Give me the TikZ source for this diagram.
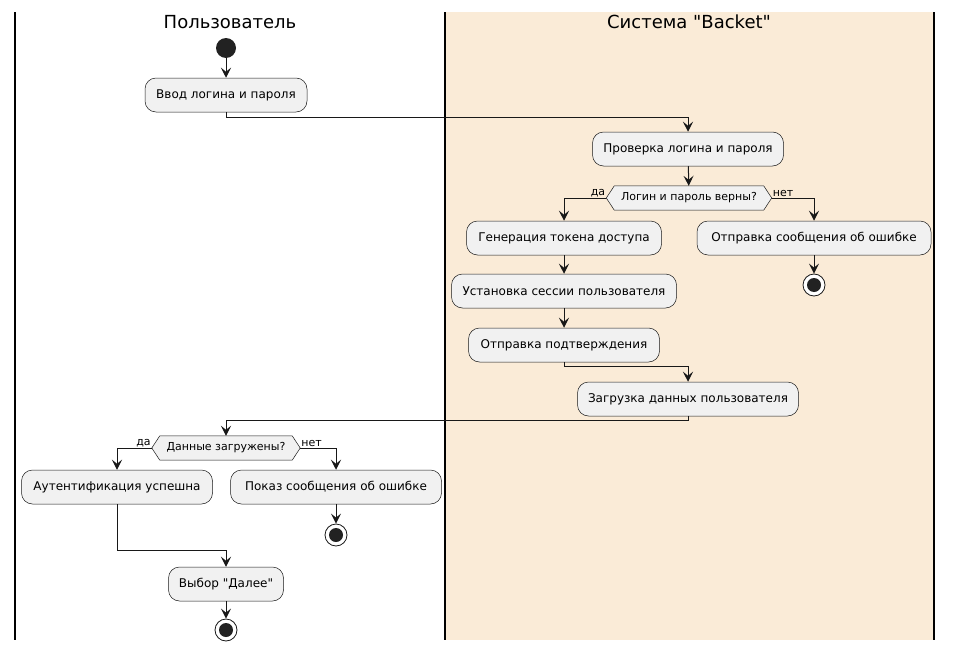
\documentclass[tikz,border=0pt]{standalone}
\usepackage{fontspec}
\setmainfont{DejaVu Sans}[Ligatures=TeXOff]
\usetikzlibrary{arrows.meta,positioning}
\definecolor{lanebg}{HTML}{FAEBD7}
\definecolor{boxfill}{HTML}{F1F1F1}
\definecolor{ink}{HTML}{181818}
\definecolor{dot}{HTML}{222222}
\tikzset{
  act/.style={draw=ink, line width=0.5pt, fill=boxfill, rounded corners=11pt,
    minimum height=34pt, inner xsep=10pt, font=\fontsize{12}{14}\selectfont, anchor=center},
  dec/.style={minimum height=24pt, inner xsep=14pt, font=\fontsize{11}{13}\selectfont},
  arr/.style={draw=ink, line width=1pt, -{Stealth[length=10pt,width=10pt,inset=4pt]}},
  ln/.style={draw=ink, line width=1pt},
  startdot/.style={circle, fill=dot, minimum size=20pt, inner sep=0pt},
  stopdot/.style={circle, draw=ink, line width=0.8pt, fill=white, minimum size=22pt, inner sep=0pt,
    path picture={\fill[dot] (path picture bounding box.center) circle (7pt);}},
  lbl/.style={font=\fontsize{11}{13}\selectfont, inner sep=1pt},
  lanetitle/.style={font=\fontsize{18}{20}\selectfont},
  laneline/.style={draw=black, line width=1.5pt}
}
\newcommand{\hexdraw}[1]{%
  \draw[draw=ink, line width=0.5pt, fill=boxfill]
    (#1.west) -- ([xshift=8pt]#1.north west) -- ([xshift=-8pt]#1.north east) --
    (#1.east) -- ([xshift=-8pt]#1.south east) -- ([xshift=8pt]#1.south west) -- cycle;}
\begin{document}
\begin{tikzpicture}[x=1pt,y=-1pt]
\useasboundingbox (0,0) rectangle (953,653);
% lanes
\fill[lanebg] (446,12) rectangle (933,640);
\draw[laneline] (15,12) -- (15,640);
\draw[laneline] (445,12) -- (445,640);
\draw[laneline] (934,12) -- (934,640);
\node[lanetitle] (t1) at (230,22) {Пользователь};
\node[lanetitle] (t2) at (689,22) {Система "Backet"};

% user lane top
\node[startdot] (start) at (226,48) {};
\node[act, minimum width=162pt] (b1) at (226,95) {Ввод логина и пароля};

% system lane
\node[act, minimum width=191pt] (b2) at (688,149) {Проверка логина и пароля};
\node[dec, minimum width=165pt] (d1) at (689,198) {};
\hexdraw{d1}
\node[dec] at (d1) {Логин и пароль верны?};
\node[act, minimum width=195pt] (b3) at (564,238) {Генерация токена доступа};
\node[act, minimum width=234pt] (b4) at (814,238) {Отправка сообщения об ошибке};
\node[stopdot] (s1) at (814,285) {};
\node[act, minimum width=225pt] (b5) at (564,291) {Установка сессии пользователя};
\node[act, minimum width=191pt] (b6) at (564,345) {Отправка подтверждения};
\node[act, minimum width=221pt] (b7) at (688,399) {Загрузка данных пользователя};

% user lane bottom
\node[dec, minimum width=148pt] (d2) at (226,448) {};
\hexdraw{d2}
\node[dec] at (d2) {Данные загружены?};
\node[act, minimum width=191pt] (b8) at (117,487) {Аутентификация успешна};
\node[act, minimum width=211pt] (b9) at (336,487) {Показ сообщения об ошибке};
\node[stopdot] (s2) at (336,535) {};
\node[act, minimum width=115pt] (b10) at (226,584) {Выбор "Далее"};
\node[stopdot] (s3) at (226,630) {};

% connectors
\draw[arr] (start) -- (b1);
\draw[arr] (b1.south) -- ++(0,5) -| (b2.north);
\draw[arr] (b2) -- (d1);
\draw[arr] (d1.west) -| (b3.north);
\draw[arr] (d1.east) -| (b4.north);
\node[lbl, anchor=south east] at (d1.west) {да};
\node[lbl, anchor=south west] at (d1.east) {нет};
\draw[arr] (b4) -- (s1);
\draw[arr] (b3) -- (b5);
\draw[arr] (b5) -- (b6);
\draw[arr] (b6.south) -- ++(0,4) -| (b7.north);
\draw[arr] (b7.south) -- ++(0,4) -| (d2.north);
\draw[arr] (d2.west) -| (b8.north);
\draw[arr] (d2.east) -| (b9.north);
\node[lbl, anchor=south east] at (d2.west) {да};
\node[lbl, anchor=south west] at (d2.east) {нет};
\draw[arr] (b9) -- (s2);
\draw[arr] (b8.south) |- ([yshift=16pt]b10.north) -- (b10.north);
\draw[arr] (b10) -- (s3);
\end{tikzpicture}
\end{document}
